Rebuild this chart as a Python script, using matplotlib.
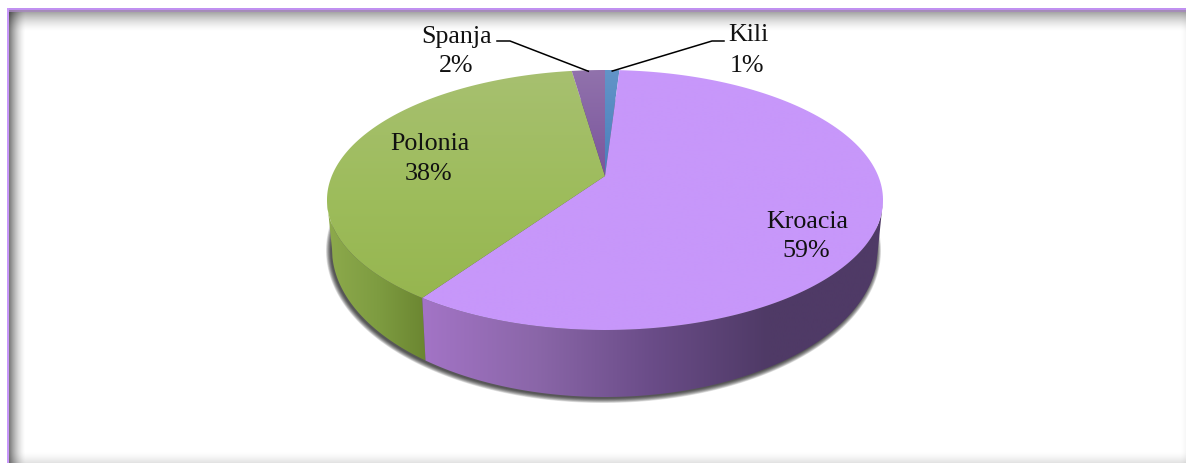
import numpy as np
import matplotlib
matplotlib.use("Agg")
import matplotlib.pyplot as plt
from matplotlib.colors import LinearSegmentedColormap as LSC
from matplotlib.patches import Polygon, Rectangle

# data (share of the whole, in %)
categories = ["Kili", "Kroacia", "Polonia", "Spanja"]
values = [1.0, 58.6, 38.1, 2.3]

# layout (pixels)
W, H = 1186, 464
CX, TOP_CY, RX, RY = 605, 201, 278, 130
BOT_CY, BOT_RX, BOT_RY = 250, 273, 148
APEX_Y = 177
FONT = "Liberation Serif"
FS = 18.7

fig = plt.figure(figsize=(W / 100, H / 100), dpi=100, facecolor="white")
ax = fig.add_axes([0, 0, 1, 1])
ax.set_axis_off()


def grad(colors, extent, clip=None, horizontal=False, z=2):
    cmap = LSC.from_list("g", colors)
    ramp = np.linspace(0, 1, 256)
    img = ramp[None, :] if horizontal else ramp[:, None]
    im = ax.imshow(img, cmap=cmap, extent=extent, aspect="auto", zorder=z,
                   interpolation="bilinear", origin="upper" if not horizontal else "lower")
    if clip is not None:
        im.set_clip_path(clip)
    return im


# frame with inner shadow
xx, yy = np.meshgrid(np.arange(W) + .5, np.arange(H) + .5)
def fall(d, length, strength):
    return strength * np.clip(1 - d / length, 0, 1) ** 1.6
alpha = 1 - (1 - fall(xx - 9, 17, .55)) * (1 - fall(yy - 11, 22, .42)) * \
    (1 - fall(H - yy, 12, .12)) * (1 - fall(W - xx, 6, .04))
rgba = np.zeros((H, W, 4))
rgba[..., 3] = alpha
rgba[:11, :, 3] = 0
rgba[:, :9, 3] = 0
ax.imshow(rgba, extent=(0, W, H, 0), aspect="auto", zorder=1, interpolation="nearest")
ax.add_patch(Rectangle((7, 9), W - 7, 2, fc="#C090F0", ec="none", zorder=1.5))
ax.add_patch(Rectangle((9, 11), W - 9, 1.6, fc="#A888C0", ec="none", alpha=.8, zorder=1.5))
ax.add_patch(Rectangle((7, 9), 2, H - 9, fc="#C797FA", ec="none", zorder=1.5))

# perspective mapping of the disc: the centre lands on the apex
a = (APEX_Y - TOP_CY) / RY
def project(frac):
    th = 2 * np.pi * np.asarray(frac)
    x, y = np.sin(th), -np.cos(th)
    d = 1 + a * y
    return x * np.sqrt(1 - a * a) / d, (y + a) / d

def arc(f0, f1, n=240):
    return project(np.linspace(f0, f1, n))

cum = np.cumsum([0] + values) / sum(values)
sp = {c: (cum[i], cum[i + 1]) for i, c in enumerate(categories)}

# shadow under the body
t = np.linspace(0, 2 * np.pi, 300)
for g in np.linspace(4.5, 0, 9):
    poly = np.c_[CX - 1.5 + (BOT_RX + g) * np.cos(t), BOT_CY + 1.5 + (BOT_RY + g) * np.sin(t)]
    ax.add_patch(Polygon(poly, fc="black", ec="none", alpha=.11, zorder=1.8))

# side walls
def side(x0, x1):
    """wall between two normalised x positions along the front edge"""
    s = np.linspace(x0, x1, 200)
    c = np.sqrt(np.clip(1 - s * s, 0, 1))
    top = np.c_[CX + RX * s, TOP_CY + RY * c]
    bot = np.c_[CX + BOT_RX * s, BOT_CY + BOT_RY * c]
    return np.vstack([top, bot[::-1]])

bx, by = project(sp["Kroacia"][1])
green_wall = Polygon(side(-1, bx), transform=ax.transData, fc="none", ec="none")
purple_wall = Polygon(side(bx, 1), transform=ax.transData, fc="none", ec="none")
ax.add_patch(green_wall)
ax.add_patch(purple_wall)
grad(["#8DAA4C", "#7E9C41", "#6A8530"], (CX - RX, CX + bx * RX + 5, 0, H), green_wall, True)
grad(["#A374C6", "#8A66A8", "#6A4C88", "#4F3A66", "#4F3A66"],
     (CX + bx * RX, CX + RX, 0, H), purple_wall, True)

# top slices
styles = {
    "Kili": ["#6294C8", "#4A7EBB"],
    "Kroacia": ["#C797FA", "#C797FA"],
    "Polonia": ["#A7C070", "#9DBC5B", "#94B44C"],
    "Spanja": ["#9172AC", "#7A559C"],
}
for c in categories:
    px, py = arc(*sp[c])
    pts = np.c_[CX + RX * px, TOP_CY + RY * py]
    pts = np.vstack([[CX, APEX_Y], pts])
    patch = Polygon(pts, fc="none", ec="none")
    ax.add_patch(patch)
    if c in ("Kili", "Spanja"):
        ext = (CX - RX, CX + RX, APEX_Y, TOP_CY - RY)
    else:
        ext = (CX - RX, CX + RX, TOP_CY + RY, TOP_CY - RY)
    grad(styles[c], ext, patch, z=3)

ax.set_xlim(0, W)
ax.set_ylim(H, 0)

# leader lines
def edge_point(c):
    px, py = project(np.mean(sp[c]))
    return CX + RX * px, TOP_CY + RY * py

for c, knee, end in (("Spanja", 510, 497), ("Kili", 712, 724)):
    ex, ey = edge_point(c)
    ax.plot([ex, knee, end], [ey + 1, 42, 42], color="black", lw=1.1, zorder=4,
            solid_joinstyle="miter")

# labels
places = {"Kili": (748, 35, 747, 66), "Spanja": (457, 37, 456, 66),
          "Polonia": (430, 144, 429, 174), "Kroacia": (807, 222, 806, 251)}
for c, v in zip(categories, values):
    x0, y0, x1, y1 = places[c]
    ax.text(x0, y0, c, ha="center", va="center", family=FONT, fontsize=FS, color="#111111", zorder=5)
    ax.text(x1, y1, f"{round(v):d}%", ha="center", va="center", family=FONT, fontsize=FS,
            color="#111111", zorder=5)

fig.savefig("out.png", dpi=100, facecolor="white")
